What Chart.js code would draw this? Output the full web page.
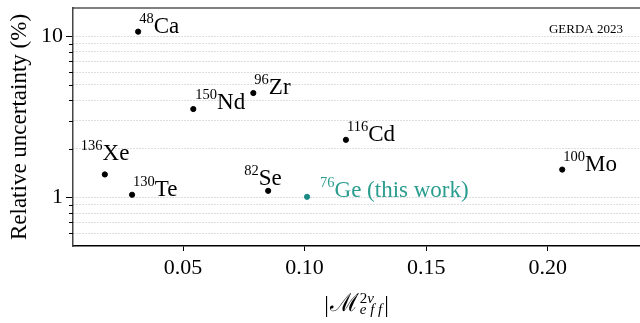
<!DOCTYPE html>
<html>
<head>
<meta charset="utf-8">
<script src="https://cdn.jsdelivr.net/npm/chart.js@4"></script>
<style>
  body { margin: 0; background: #fff; }
  #wrap { width: 640px; height: 323px; }
</style>
</head>
<body>
<div id="wrap"><canvas id="myChart"></canvas></div>
<script>
// other isotopes: mass number, element, |M_eff^2v|, relative uncertainty (%)
var massNumbers = ['48', '150', '96', '116', '136', '130', '82', '100'];
var elements = ['Ca', 'Nd', 'Zr', 'Cd', 'Xe', 'Te', 'Se', 'Mo'];
var nmeValues = [0.0315, 0.0542, 0.0789, 0.117, 0.0178, 0.029, 0.085, 0.206];
var relUncertainty = [10.7, 3.54, 4.45, 2.28, 1.39, 1.04, 1.10, 1.49];

// this work
var geMass = ['76'];
var geLabel = ['Ge (this work)'];
var geNme = [0.101];
var geUncertainty = [1.01];

var xTicks = [0.05, 0.10, 0.15, 0.20];
var yTicks = [0.6, 0.7, 0.8, 0.9, 1, 2, 3, 4, 5, 6, 7, 8, 9, 10];
var yTickLabels = { 1: '1', 10: '10' };

// where each label sits relative to its point (px)
var labelShift = [[1, 1], [2, 0], [1, 1], [1, 1], [-24, -14], [1, 1], [-24, -6], [1, 1]];
var geShift = [[13, 0]];

var serif = "'Liberation Serif', 'DejaVu Serif', serif";
var teal = '#2a9d8f';

var isotopeLabels = {
  id: 'isotopeLabels',
  afterDatasetsDraw: function (chart) {
    var ctx = chart.ctx;
    chart.data.datasets.forEach(function (ds, di) {
      var meta = chart.getDatasetMeta(di);
      meta.data.forEach(function (pt, i) {
        var x = pt.x + ds.shifts[i][0];
        var y = pt.y + ds.shifts[i][1];
        ctx.save();
        ctx.fillStyle = ds.textColor;
        ctx.textAlign = 'left';
        ctx.textBaseline = 'alphabetic';
        ctx.font = '14.5px ' + serif;
        ctx.fillText(ds.mass[i], x, y - 10);
        var w = ctx.measureText(ds.mass[i]).width;
        ctx.font = '23px ' + serif;
        ctx.fillText(ds.names[i], x + w, y);
        ctx.restore();
      });
    });
  }
};

var frame = {
  id: 'frame',
  afterDraw: function (chart) {
    var ctx = chart.ctx, a = chart.chartArea;
    ctx.save();
    // top spine
    ctx.strokeStyle = '#000';
    ctx.lineWidth = 1.2;
    ctx.beginPath();
    ctx.moveTo(a.left, a.top);
    ctx.lineTo(a.right, a.top);
    ctx.stroke();
    // short minor ticks on y
    var ys = chart.scales.y;
    ctx.lineWidth = 1;
    ys.ticks.forEach(function (t) {
      if (yTickLabels[t.value]) return;
      var py = Math.round(ys.getPixelForValue(t.value)) + 0.5;
      ctx.beginPath();
      ctx.moveTo(a.left - 4, py);
      ctx.lineTo(a.left, py);
      ctx.stroke();
    });
    // tag
    ctx.fillStyle = '#000';
    ctx.font = '13px ' + serif;
    ctx.textAlign = 'right';
    ctx.fillText('GERDA 2023', a.right - 17, a.top + 25);
    // x title  |M^{2v}_{eff}|
    ctx.textAlign = 'left';
    var big = '23px ' + serif, bigM = '25px ' + serif, small = '15px ' + serif, smallIt = 'italic 15px ' + serif;
    ctx.font = big;
    var wBar = ctx.measureText('|').width;
    ctx.font = bigM;
    var wM = ctx.measureText('\u2133').width;
    ctx.font = small;
    var w2 = ctx.measureText('2').width;
    ctx.font = smallIt;
    var wNu = ctx.measureText('\u03bd').width, wEff = ctx.measureText('e f f').width;
    var wScript = Math.max(w2 + wNu, wEff);
    var total = wBar * 2 + wM + wScript + 4;
    var x0 = (a.left + a.right) / 2 - total / 2;
    var base = a.bottom + 65;
    ctx.font = big;
    ctx.fillText('|', x0, base + 1);
    ctx.font = bigM;
    ctx.fillText('\u2133', x0 + wBar + 1, base);
    var xs = x0 + wBar + wM + 2;
    ctx.font = small;
    ctx.fillText('2', xs, base - 8);
    ctx.font = smallIt;
    ctx.fillText('\u03bd', xs + w2, base - 8);
    ctx.fillText('e f f', xs, base + 3);
    ctx.font = big;
    ctx.fillText('|', xs + wScript + 2, base + 1);
    ctx.restore();
  }
};

var ctx = document.getElementById('myChart').getContext('2d');
var chart = new Chart(ctx, {
  type: 'scatter',
  data: {
    datasets: [{
      data: nmeValues.map(function (v, i) { return { x: v, y: relUncertainty[i] }; }),
      backgroundColor: '#000',
      borderColor: '#000',
      pointRadius: 2.6,
      mass: massNumbers,
      names: elements,
      shifts: labelShift,
      textColor: '#000'
    }, {
      data: geNme.map(function (v, i) { return { x: v, y: geUncertainty[i] }; }),
      backgroundColor: '#1b8a86',
      borderColor: '#1b8a86',
      pointRadius: 2.6,
      mass: geMass,
      names: geLabel,
      shifts: geShift,
      textColor: teal
    }]
  },
  options: {
    responsive: true,
    maintainAspectRatio: false,
    animation: false,
    layout: { autoPadding: false, padding: { top: 8, left: 0, right: 0, bottom: 0 } },
    plugins: { legend: { display: false }, tooltip: { enabled: false } },
    scales: {
      x: {
        type: 'linear',
        min: 0.0047,
        max: 0.238,
        afterBuildTicks: function (s) { s.ticks = xTicks.map(function (v) { return { value: v }; }); },
        afterFit: function (s) { s.height = 77; s.paddingLeft = 0; s.paddingRight = 0; },
        ticks: {
          autoSkip: false,
          maxRotation: 0,
          padding: 4,
          color: '#000',
          font: { family: serif, size: 22 },
          callback: function (v) { return Number(v).toFixed(2); }
        },
        grid: { drawOnChartArea: false, tickLength: 5, tickColor: '#000', tickWidth: 1 },
        border: { color: '#000', width: 1.5 }
      },
      y: {
        type: 'logarithmic',
        min: 0.5,
        max: 15,
        afterBuildTicks: function (s) {
          s.ticks = yTicks.map(function (v) { return { value: v, major: !!yTickLabels[v] }; });
        },
        afterFit: function (s) { s.width = 73; s.paddingTop = 0; s.paddingBottom = 0; },
        ticks: {
          autoSkip: false,
          padding: 3,
          color: '#000',
          font: { family: serif, size: 22 },
          callback: function (v) { return yTickLabels[v] || ''; }
        },
        grid: {
          color: '#bdbdbd',
          lineWidth: 1,
          tickLength: 7,
          tickWidth: 1,
          tickColor: function (c) { return c.tick && yTickLabels[c.tick.value] ? '#000' : 'rgba(0,0,0,0)'; }
        },
        border: { color: '#444', width: 1.5, dash: [1, 2] },
        title: {
          display: true,
          text: 'Relative uncertainty (%)',
          color: '#000',
          font: { family: serif, size: 23 },
          padding: { top: 6, bottom: 0 }
        }
      }
    }
  },
  plugins: [isotopeLabels, frame]
});
</script>
</body>
</html>
